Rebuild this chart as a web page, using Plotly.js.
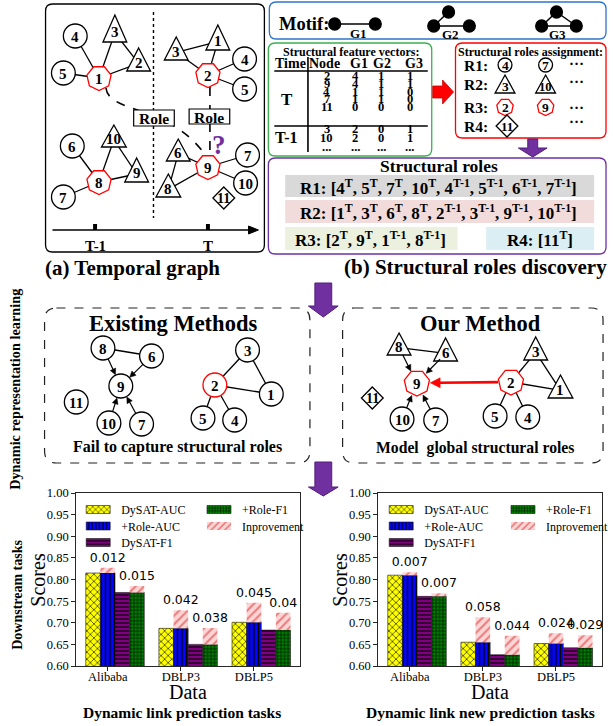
<!DOCTYPE html>
<html>
<head>
<meta charset="utf-8">
<script src="https://cdn.plot.ly/plotly-3.0.1.min.js"></script>
<style>html,body{margin:0;padding:0;background:#fff;}</style>
</head>
<body>
<div id="fig" style="width:613px;height:726px;"></div>
<script>
// ---------------- chart data ----------------
const datasets = ['Alibaba', 'DBLP3', 'DBLP5'];
const seriesNames = ['DySAT-AUC', '+Role-AUC', 'DySAT-F1', '+Role-F1', 'Inprovement'];
const yTickVals = [0.60, 0.65, 0.70, 0.75, 0.80, 0.85, 0.90, 0.95, 1.00];

// dynamic link prediction
const lpDysatAuc = [0.815, 0.687, 0.701];
const lpRoleAuc  = [0.815, 0.687, 0.701];
const lpDysatF1  = [0.770, 0.650, 0.683];
const lpRoleF1   = [0.770, 0.650, 0.683];
const lpAucGain  = [0.012, 0.042, 0.045];
const lpF1Gain   = [0.015, 0.038, 0.04];

// dynamic new link prediction
const nlpDysatAuc = [0.810, 0.655, 0.652];
const nlpRoleAuc  = [0.810, 0.655, 0.652];
const nlpDysatF1  = [0.761, 0.626, 0.642];
const nlpRoleF1   = [0.761, 0.626, 0.642];
const nlpAucGain  = [0.007, 0.058, 0.024];
const nlpF1Gain   = [0.007, 0.044, 0.029];

// structural feature table
const featTime  = ['T', 'T-1'];
const featHead  = ['Time', 'Node', 'G1', 'G2', 'G3'];
const featNodes = ['2', '9', '4', '7', '11', '3', '10', '...'];
const featG1    = ['4', '4', '1', '1', '0', '2', '2', '...'];
const featG2    = ['1', '1', '1', '1', '0', '0', '0', '...'];
const featG3    = ['1', '1', '0', '0', '0', '1', '1', '...'];

// role lists
const roleR1 = '[4<sup>T</sup>, 5<sup>T</sup>, 7<sup>T</sup>, 10<sup>T</sup>, 4<sup>T-1</sup>, 5<sup>T-1</sup>, 6<sup>T-1</sup>, 7<sup>T-1</sup>]';
const roleR2 = '[1<sup>T</sup>, 3<sup>T</sup>, 6<sup>T</sup>, 8<sup>T</sup>, 2<sup>T-1</sup>, 3<sup>T-1</sup>, 9<sup>T-1</sup>, 10<sup>T-1</sup>]';
const roleR3 = '[2<sup>T</sup>, 9<sup>T</sup>, 1<sup>T-1</sup>, 8<sup>T-1</sup>]';
const roleR4 = '[11<sup>T</sup>]';

// ---------------- drawing helpers (figure pixel space on x3/y3) ----------------
const W = 613, H = 726;
const SERIF = 'Liberation Serif';
const INK = '#000000';
const RED = '#ff0000';
const PURPLE = 'rgb(112,48,160)';
const shapes = [];
const annotations = [];

function seg(x0, y0, x1, y1, o = {}) {
  shapes.push({type: 'line', xref: 'x3', yref: 'y3', x0, y0, x1, y1,
    line: {color: o.color || INK, width: o.width || 1.3, dash: o.dash || 'solid'}});
}
function rect(x0, y0, x1, y1, o = {}) {
  shapes.push({type: 'rect', xref: 'x3', yref: 'y3', x0, y0, x1, y1,
    line: {color: o.color || INK, width: o.width === undefined ? 1.2 : o.width},
    fillcolor: o.fill || 'rgba(0,0,0,0)'});
}
function circ(cx, cy, r, o = {}) {
  shapes.push({type: 'circle', xref: 'x3', yref: 'y3', x0: cx - r, x1: cx + r, y0: cy - r, y1: cy + r,
    line: {color: o.color || INK, width: o.width || 1.3}, fillcolor: o.fill || '#ffffff'});
}
function poly(pts, o = {}) {
  const d = 'M' + pts.map(p => p[0].toFixed(2) + ',' + p[1].toFixed(2)).join('L') + 'Z';
  shapes.push({type: 'path', xref: 'x3', yref: 'y3', path: d,
    line: {color: o.color || INK, width: o.width === undefined ? 1.3 : o.width}, fillcolor: o.fill || '#ffffff'});
}
function rrect(x0, y0, x1, y1, r, o = {}) {
  const d = `M${x0 + r},${y0} L${x1 - r},${y0} Q${x1},${y0} ${x1},${y0 + r} L${x1},${y1 - r} Q${x1},${y1} ${x1 - r},${y1} ` +
            `L${x0 + r},${y1} Q${x0},${y1} ${x0},${y1 - r} L${x0},${y0 + r} Q${x0},${y0} ${x0 + r},${y0} Z`;
  shapes.push({type: 'path', xref: 'x3', yref: 'y3', path: d,
    line: {color: o.color || INK, width: o.width || 1.3, dash: o.dash || 'solid'},
    fillcolor: o.fill || 'rgba(0,0,0,0)'});
}
function heptagon(cx, cy, r, o = {}) {
  const pts = [];
  for (let k = 0; k < 7; k++) {
    const a = (-90 + 180 / 7 + k * 360 / 7) * Math.PI / 180;
    pts.push([cx + r * Math.cos(a), cy + r * Math.sin(a)]);
  }
  poly(pts, {color: o.color || RED, width: o.width || 1.3});
}
function label(x, y, text, size, o = {}) {
  annotations.push({xref: 'x3', yref: 'y3', x, y, text, showarrow: false,
    xanchor: o.xanchor || 'center', yanchor: 'middle', textangle: o.angle || 0,
    font: {family: o.family || SERIF, size, color: o.color || INK, weight: o.normal ? 'normal' : 'bold'}});
}
// straight arrow: shaft plus filled head ending at (x1, y1)
function arrow(x0, y0, x1, y1, o = {}) {
  const col = o.color || INK, len = o.head || 6, half = o.half || 3;
  const dx = x1 - x0, dy = y1 - y0, L = Math.hypot(dx, dy), ux = dx / L, uy = dy / L;
  const bx = x1 - ux * len, by = y1 - uy * len;
  seg(x0, y0, bx + ux * 1, by + uy * 1, {color: col, width: o.width || 1.2});
  poly([[x1, y1], [bx - uy * half, by + ux * half], [bx + uy * half, by - ux * half]], {fill: col, color: col, width: 0.5});
}
function blockArrowDown(cx, yTop, yNeck, yTip, bh, hh, fill, edge) {
  poly([[cx - bh, yTop], [cx + bh, yTop], [cx + bh, yNeck], [cx + hh, yNeck], [cx, yTip],
        [cx - hh, yNeck], [cx - bh, yNeck]], {fill, color: edge, width: 1});
}

// node helpers: c = circle, h = heptagon, t = triangle (y = apex, b = base), d = diamond
function nodeCenter(n) {
  if (n.k === 't') return [n.x, (n.y + 2 * n.b) / 3];
  return [n.x, n.y];
}
function nodeRadius(n) {
  if (n.k === 't') return 8;
  if (n.k === 'd') return n.s || 11;
  return n.r || 12;
}
function drawNode(n, size) {
  const fs = size || 15;
  if (n.k === 'c') {
    circ(n.x, n.y, n.r || 12, {color: n.red ? RED : INK});
    label(n.x, n.y + 0.5, n.id, fs);
  } else if (n.k === 'h') {
    heptagon(n.x, n.y, n.r || 12.5);
    label(n.x, n.y + 0.5, n.id, fs);
  } else if (n.k === 't') {
    poly([[n.x, n.y], [n.x + n.w, n.b], [n.x - n.w, n.b]]);
    label(n.x, n.b - (n.b - n.y) * 0.36, n.id, fs);
  } else if (n.k === 'd') {
    const s = n.s || 11;
    poly([[n.x, n.y - s], [n.x + s, n.y], [n.x, n.y + s], [n.x - s, n.y]]);
    label(n.x, n.y + 0.5, n.id, fs - 1);
  }
}
function findNode(g, id) { return g.nodes.find(n => n.id === id); }
function drawEdges(g) {
  (g.edges || []).forEach(([a, b]) => {
    const p = nodeCenter(findNode(g, a)), q = nodeCenter(findNode(g, b));
    seg(p[0], p[1], q[0], q[1]);
  });
}
function drawArrows(g) {
  (g.arrows || []).forEach(([a, b, col, wid]) => {
    const na = findNode(g, a), nb = findNode(g, b);
    const p = nodeCenter(na), q = nodeCenter(nb);
    const dx = q[0] - p[0], dy = q[1] - p[1], L = Math.hypot(dx, dy);
    const ux = dx / L, uy = dy / L;
    const ra = nodeRadius(na), rb = nodeRadius(nb) + 0.5;
    const heavy = !!wid;
    arrow(p[0] + ux * ra, p[1] + uy * ra, q[0] - ux * rb, q[1] - uy * rb,
      {color: col, width: wid || 1.2, head: heavy ? 10 : 6, half: heavy ? 5 : 3});
  });
}

// ---------------- graphs ----------------
const graphPrev = {
  nodes: [
    {id: '4', k: 'c', x: 76, y: 36}, {id: '5', k: 'c', x: 64, y: 73},
    {id: '1', k: 'h', x: 100, y: 78},
    {id: '3', k: 't', x: 116, y: 15, b: 42, w: 12}, {id: '2', k: 't', x: 140, y: 48, b: 71, w: 12},
    {id: '6', k: 'c', x: 73, y: 146}, {id: '7', k: 'c', x: 64, y: 197},
    {id: '8', k: 'h', x: 100, y: 182},
    {id: '10', k: 't', x: 115, y: 125, b: 147, w: 12.5}, {id: '9', k: 't', x: 138, y: 158, b: 182, w: 12}
  ],
  edges: [['4', '1'], ['5', '1'], ['3', '1'], ['2', '1'], ['3', '2'],
          ['6', '8'], ['7', '8'], ['10', '8'], ['9', '8'], ['10', '9']]
};
const graphCur = {
  nodes: [
    {id: '1', k: 't', x: 220, y: 25, b: 50, w: 12}, {id: '3', k: 't', x: 178, y: 37, b: 60, w: 12},
    {id: '2', k: 'h', x: 210, y: 75},
    {id: '4', k: 'c', x: 247, y: 59}, {id: '5', k: 'c', x: 247, y: 89},
    {id: '6', k: 't', x: 180, y: 139, b: 161, w: 12}, {id: '8', k: 't', x: 170, y: 174, b: 197, w: 12.5},
    {id: '9', k: 'h', x: 210, y: 167},
    {id: '7', k: 'c', x: 250, y: 155}, {id: '10', k: 'c', x: 248, y: 183},
    {id: '11', k: 'd', x: 226, y: 198, s: 11}
  ],
  edges: [['3', '2'], ['1', '2'], ['4', '2'], ['5', '2'], ['3', '1'],
          ['6', '8'], ['6', '9'], ['8', '9'], ['7', '9'], ['10', '9']]
};
const graphExisting = {
  nodes: [
    {id: '8', k: 'c', x: 104, y: 348}, {id: '6', k: 'c', x: 153, y: 356},
    {id: '9', k: 'c', x: 122, y: 386}, {id: '11', k: 'c', x: 77, y: 402},
    {id: '10', k: 'c', x: 110, y: 423}, {id: '7', k: 'c', x: 143, y: 424},
    {id: '3', k: 'c', x: 250, y: 350}, {id: '2', k: 'c', x: 217, y: 385, red: true},
    {id: '1', k: 'c', x: 274, y: 394}, {id: '5', k: 'c', x: 205, y: 418}, {id: '4', k: 'c', x: 237, y: 420}
  ],
  edges: [['8', '6'], ['3', '2'], ['3', '1'], ['2', '1'], ['2', '5'], ['2', '4']],
  arrows: [['8', '9'], ['6', '9'], ['10', '9'], ['7', '9']]
};
const graphOurs = {
  nodes: [
    {id: '8', k: 't', x: 403, y: 333, b: 355, w: 12}, {id: '6', k: 't', x: 450, y: 338, b: 361, w: 12},
    {id: '9', k: 'h', x: 421, y: 383, r: 13}, {id: '11', k: 'd', x: 376, y: 398, s: 11},
    {id: '10', k: 'c', x: 406, y: 419}, {id: '7', k: 'c', x: 440, y: 420},
    {id: '2', k: 'h', x: 516, y: 382, r: 13},
    {id: '3', k: 't', x: 541, y: 337, b: 360, w: 12}, {id: '1', k: 't', x: 566, y: 375, b: 398, w: 12.5},
    {id: '5', k: 'c', x: 500, y: 416}, {id: '4', k: 'c', x: 533, y: 417}
  ],
  edges: [['8', '6'], ['3', '2'], ['3', '1'], ['2', '1'], ['2', '5'], ['2', '4']],
  arrows: [['8', '9'], ['6', '9'], ['10', '9'], ['7', '9'], ['2', '9', RED, 2.6]]
};

// ---------------- panel (a): temporal graph ----------------
rrect(46, 4, 267, 252, 7, {width: 1.3});
seg(155, 12, 155, 218, {dash: 'dot', width: 1.4});
seg(53, 230, 252, 230, {width: 1.3});
poly([[261, 230], [251, 226], [251, 234]], {fill: INK, width: 1});
rect(94, 224, 98, 230, {fill: INK, width: 0});
rect(208, 224, 212, 230, {fill: INK, width: 0});
// role links across time
shapes.push({type: 'path', xref: 'x3', yref: 'y3', path: 'M107,88 C110,114 172,104 208,156',
  line: {color: INK, width: 1.6, dash: 'dash'}});
seg(212, 87, 212, 154, {dash: 'dash', width: 1.6});
drawEdges(graphPrev);
drawEdges(graphCur);
graphPrev.nodes.forEach(n => drawNode(n));
graphCur.nodes.forEach(n => drawNode(n));
rect(135, 110, 176, 126, {fill: '#ffffff', width: 1.2});
rect(191, 109, 232, 124, {fill: '#ffffff', width: 1.2});
label(155.5, 118.5, 'Role', 15.5);
label(211.5, 117, 'Role', 15.5);
label(221, 145, '?', 27, {color: PURPLE});
label(96, 246, 'T-1', 15);
label(210, 246, 'T', 15);
label(134, 268, '(a) Temporal graph', 21);

// ---------------- panel (b): structural roles discovery ----------------
// motifs
rrect(272, 2, 612, 39, 7, {color: 'rgb(46,117,200)', width: 1.3});
label(280, 24, 'Motif:', 18.5, {xanchor: 'left'});
seg(338, 24, 379, 24, {width: 1.5});
circ(338, 24, 6, {fill: INK}); circ(379, 24, 6, {fill: INK});
label(362, 33, 'G1', 13);
seg(438, 26, 453, 12, {width: 1.5}); seg(438, 26, 474, 26, {width: 1.5});
circ(438, 26, 6, {fill: INK}); circ(453, 12, 6, {fill: INK}); circ(474, 26, 6, {fill: INK});
label(455, 34, 'G2', 13);
seg(547, 26, 562, 12, {width: 1.5}); seg(547, 26, 582, 26, {width: 1.5}); seg(562, 12, 582, 26, {width: 1.5});
circ(547, 26, 6, {fill: INK}); circ(562, 12, 6, {fill: INK}); circ(582, 26, 6, {fill: INK});
label(563, 34, 'G3', 13);

// feature table
rrect(271, 43, 436, 156, 7, {color: 'rgb(60,175,80)', width: 1.3});
label(354, 52, 'Structural feature vectors:', 12);
const headX = [293, 328, 363, 386, 418];
featHead.forEach((t, i) => label(headX[i], 63.5, t, 14));
seg(277, 71, 432, 71, {width: 1.6});
seg(277, 126, 432, 126, {width: 1.6});
seg(311, 57, 311, 152, {width: 1.6});
label(290, 99.5, featTime[0], 17);
label(289, 137, featTime[1], 16);
const rowY = [76, 84, 91.7, 99.3, 106.7, 129.3, 138.3, 147];
const colX = [330, 359, 385, 414];
[featNodes, featG1, featG2, featG3].forEach((col, ci) => {
  col.forEach((v, ri) => label(colX[ci], rowY[ri], v, 12.5));
});
// arrow to role assignment
poly([[437, 86], [447, 86], [447, 80], [458, 92], [447, 104], [447, 98], [437, 98]],
  {fill: RED, color: 'rgb(200,0,0)', width: 0.8});

// role assignment
rrect(460, 43, 612, 138, 7, {color: RED, width: 1.3});
label(536, 52, 'Structural roles assignment:', 12);
label(481, 65, 'R1:', 15.5); label(481, 84, 'R2:', 15.5); label(481, 107, 'R3:', 15.5); label(481, 126, 'R4:', 15.5);
drawNode({id: '4', k: 'c', x: 510, y: 65, r: 7}, 13.5);
drawNode({id: '7', k: 'c', x: 551, y: 65, r: 7}, 13.5);
drawNode({id: '3', k: 't', x: 510, y: 75, b: 93, w: 10}, 13.5);
drawNode({id: '10', k: 't', x: 551, y: 75, b: 93, w: 10}, 12.5);
drawNode({id: '2', k: 'h', x: 510, y: 107, r: 8.5}, 13.5);
drawNode({id: '9', k: 'h', x: 551, y: 107, r: 8.5}, 13.5);
drawNode({id: '11', k: 'd', x: 512, y: 126, s: 11}, 14);
label(582, 60, '…', 15); label(582, 78, '…', 15); label(582, 104, '…', 15); label(582, 118, '…', 15);
blockArrowDown(538, 139, 148, 157, 5, 14.5, PURPLE, 'rgb(80,30,120)');

// structural roles
rrect(271, 158, 612, 254, 7, {color: PURPLE, width: 1.3});
label(443, 166, 'Structural roles', 17.5);
rect(288, 175, 600, 197, {fill: 'rgb(217,217,217)', width: 0});
rect(288, 200, 600, 223, {fill: 'rgb(242,220,219)', width: 0});
rect(288, 227, 462, 250, {fill: 'rgb(235,241,222)', width: 0});
rect(491, 227, 600, 250, {fill: 'rgb(218,238,243)', width: 0});
label(443, 186.5, 'R1: ' + roleR1, 17);
label(443, 212, 'R2: ' + roleR2, 17);
label(374, 239, 'R3: ' + roleR3, 17);
label(545, 239, 'R4: ' + roleR4, 17);
label(480, 267, '(b) Structural roles discovery', 21);

// ---------------- representation learning ----------------
blockArrowDown(326.5, 283, 306, 317, 8.5, 15, PURPLE, 'rgb(80,30,120)');
rrect(45, 308, 313, 463, 12, {dash: 'dash', width: 1.2, color: '#222'});
rrect(346, 308, 609, 463, 12, {dash: 'dash', width: 1.2, color: '#222'});
label(175, 323, 'Existing Methods', 22.5);
label(485, 323, 'Our Method', 22.5);
drawEdges(graphExisting);
drawEdges(graphOurs);
graphExisting.nodes.forEach(n => drawNode(n));
graphOurs.nodes.forEach(n => drawNode(n));
drawArrows(graphExisting);
drawArrows(graphOurs);
label(179, 447, 'Fail to capture structural roles', 16);
label(480, 448, 'Model  global structural roles', 15.7);
blockArrowDown(326.5, 462, 487, 496, 8.5, 15, PURPLE, 'rgb(80,30,120)');

label(15, 389, 'Dynamic representation learning', 14.3, {angle: -90});
label(17, 595, 'Downstream tasks', 14, {angle: -90});
label(184, 712, 'Dynamic link prediction tasks', 15.5);
label(485, 712, 'Dynamic link new prediction tasks', 15.5);

// axis titles of the two score panels
label(38, 580, 'Scores', 20, {angle: -90, normal: true});
label(343, 580, 'Scores', 20, {angle: -90, normal: true});
label(190, 692, 'Data', 20, {normal: true});
label(495, 692, 'Data', 20, {normal: true});

// ---------------- bar charts ----------------
function hatch(bg, fg, shape, size, solidity, edge) {
  return {color: bg, line: {color: edge || '#1a1a1a', width: edge === null ? 0 : 0.6},
    pattern: {shape, bgcolor: bg, fgcolor: fg, size, solidity, fillmode: 'replace'}};
}
const styles = [
  hatch('#ffff00', '#000000', 'x', 5, 0.22),
  hatch('#0505ff', '#000000', '|', 4.5, 0.3),
  hatch('#800080', '#000000', '-', 4, 0.3),
  hatch('#008000', '#000000', '+', 3.5, 0.3),
  hatch('#fcd6d6', '#ec7c7c', '/', 6, 0.35, null)
];
const offsets = [-0.3, -0.1, 0.1, 0.3];

function chartTraces(chart, xa, ya, dAuc, rAuc, dF1, rF1, gAuc, gF1) {
  const leg = i => { const n = chart * 5 + i + 1; return n === 1 ? 'legend' : 'legend' + n; };
  const base = {type: 'bar', x: datasets, xaxis: xa, yaxis: ya, width: 0.2, hoverinfo: 'skip'};
  const out = [dAuc, rAuc, dF1, rF1].map((vals, i) => Object.assign({}, base, {
    name: seriesNames[i], y: vals, offset: offsets[i], marker: styles[i], legend: leg(i)
  }));
  const gainText = {textposition: 'outside', cliponaxis: false, constraintext: 'none', textangle: 0,
    textfont: {family: 'DejaVu Sans', size: 12.5, color: '#000'}};
  out.push(Object.assign({}, base, gainText, {name: seriesNames[4], y: gAuc, base: rAuc,
    offset: offsets[1], marker: styles[4], legend: leg(4), text: gAuc.map(String)}));
  out.push(Object.assign({}, base, gainText, {name: seriesNames[4], y: gF1, base: rF1,
    offset: offsets[3], marker: styles[4], showlegend: false, text: gF1.map(String)}));
  return out;
}

const data = [
  ...chartTraces(0, 'x', 'y', lpDysatAuc, lpRoleAuc, lpDysatF1, lpRoleF1, lpAucGain, lpF1Gain),
  ...chartTraces(1, 'x2', 'y2', nlpDysatAuc, nlpRoleAuc, nlpDysatF1, nlpRoleF1, nlpAucGain, nlpF1Gain),
  {type: 'scatter', x: [], y: [], xaxis: 'x3', yaxis: 'y3', showlegend: false, hoverinfo: 'skip'}
];

const px = v => v / W;
const py = v => 1 - v / H;
function xAxis(x0, x1, anchor) {
  return {domain: [px(x0), px(x1)], anchor, range: [-0.43, 2.63], type: 'category',
    showline: true, mirror: true, linecolor: '#262626', linewidth: 1, ticks: 'outside', ticklen: 4,
    tickcolor: '#262626', showgrid: false, zeroline: false, fixedrange: true, ticklabelstandoff: -5,
    tickfont: {family: SERIF, size: 12.5, color: '#000'}};
}
function yAxis(anchor) {
  return {domain: [py(666), py(493)], anchor, range: [0.6, 1.0], tickvals: yTickVals, tickformat: '.2f',
    showline: true, mirror: true, linecolor: '#262626', linewidth: 1, ticks: 'outside', ticklen: 4,
    tickcolor: '#262626', showgrid: false, zeroline: false, fixedrange: true,
    tickfont: {family: SERIF, size: 12.5, color: '#000'}};
}

// one legend per entry, laid out as two columns
const legendRows = [509.5, 526, 542.5];
const legendCols = [[122, 244], [428, 551]];
const legendSlots = [[0, 0], [0, 1], [0, 2], [1, 0], [1, 1]];
const legends = {};
for (let c = 0; c < 2; c++) {
  legendSlots.forEach(([col, row], i) => {
    const n = c * 5 + i + 1;
    legends[n === 1 ? 'legend' : 'legend' + n] = {
      x: px(legendCols[c][col] - 40), y: py(legendRows[row]), xanchor: 'left', yanchor: 'middle',
      bgcolor: 'rgba(0,0,0,0)', borderwidth: 0, font: {family: SERIF, size: 12, color: '#000'}
    };
  });
}

const layout = Object.assign({
  width: W, height: H, margin: {l: 0, r: 0, t: 0, b: 0},
  paper_bgcolor: '#ffffff', plot_bgcolor: 'rgba(0,0,0,0)',
  font: {family: SERIF, color: '#000'},
  barmode: 'overlay', showlegend: true,
  xaxis: xAxis(77, 303, 'y'), yaxis: yAxis('x'),
  xaxis2: xAxis(382, 608, 'y2'), yaxis2: yAxis('x2'),
  xaxis3: {domain: [0, 1], range: [0, W], visible: false, anchor: 'y3', fixedrange: true},
  yaxis3: {domain: [0, 1], range: [H, 0], visible: false, anchor: 'x3', fixedrange: true},
  shapes, annotations
}, legends);

Plotly.newPlot('fig', data, layout, {staticPlot: true, displayModeBar: false}).then(gd => {
  // wide, flat legend swatches in every legend box
  gd.querySelectorAll('.legendpoints path').forEach(p => p.setAttribute('d', 'M9,4H-15V-4H9Z'));
});
</script>
</body>
</html>
